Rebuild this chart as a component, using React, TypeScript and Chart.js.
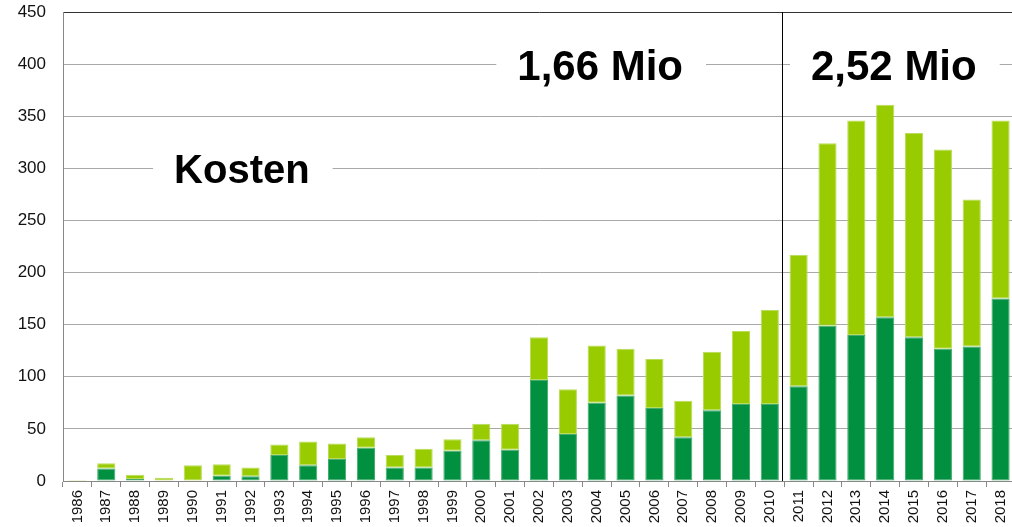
import React, { useEffect, useRef } from "react";
import { Chart, registerables } from "chart.js";

Chart.register(...registerables);

const years = [
  "1986", "1987", "1988", "1989", "1990", "1991", "1992", "1993", "1994", "1995", "1996",
  "1997", "1998", "1999", "2000", "2001", "2002", "2003", "2004", "2005", "2006", "2007",
  "2008", "2009", "2010", "2011", "2012", "2013", "2014", "2015", "2016", "2017", "2018",
];

// lower (dark green) part of each bar
const darkValues = [
  0, 12, 2, 0, 0, 5, 4.5, 25, 15, 21, 32,
  13, 13, 29, 39, 30, 97, 45, 75, 82, 70, 42,
  68, 74, 74, 91, 149, 140, 157, 138, 127, 129, 175,
];

// upper (light green) part of each bar
const lightValues = [
  1, 5, 4, 3, 15, 11, 8.5, 10, 23, 15, 10,
  12, 18, 11, 16, 25, 41, 43, 55, 45, 47, 35,
  56, 70, 90, 126, 175, 206, 204, 196, 191, 141, 171,
];

const yTicks = [0, 50, 100, 150, 200, 250, 300, 350, 400, 450];

const labelTexts = ["Kosten", "1,66 Mio", "2,52 Mio"];

const overlayPlugin = {
  id: "overlay",
  afterDatasetsDraw(chart: any) {
    const { ctx, scales, chartArea } = chart;
    const x = scales.x;
    const y = scales.y;
    const step = x.getPixelForValue(1) - x.getPixelForValue(0);
    const spots = [
      { text: labelTexts[0], idx: 5.7, val: 300, size: 40 },
      { text: labelTexts[1], idx: 18.12, val: 400, size: 42 },
      { text: labelTexts[2], idx: 28.3, val: 400, size: 42 },
    ];
    ctx.save();
    for (const s of spots) {
      const cx = x.getPixelForValue(0) + s.idx * step;
      const cy = y.getPixelForValue(s.val) + 4;
      ctx.font = `bold ${s.size}px "Liberation Sans", Arial, sans-serif`;
      const w = ctx.measureText(s.text).width;
      ctx.fillStyle = "#ffffff";
      ctx.fillRect(cx - w / 2 - 21, cy - 26, w + 44, 48);
      ctx.fillStyle = "#000000";
      ctx.textAlign = "center";
      ctx.textBaseline = "middle";
      ctx.fillText(s.text, cx, cy);
    }
    const dx = Math.round(x.getPixelForValue(24) + 0.43 * step) + 0.5;
    ctx.strokeStyle = "#000000";
    ctx.lineWidth = 1;
    ctx.beginPath();
    ctx.moveTo(dx, chartArea.top);
    ctx.lineTo(dx, chartArea.bottom);
    ctx.stroke();
    ctx.restore();
  },
};

export default function App() {
  const canvasRef = useRef<HTMLCanvasElement | null>(null);

  useEffect(() => {
    if (!canvasRef.current) return;
    const chart = new Chart(canvasRef.current, {
      type: "bar",
      data: {
        labels: years,
        datasets: [
          {
            label: "dark",
            data: darkValues,
            backgroundColor: "#009040",
            borderColor: "#45ab6c",
            borderWidth: 1,
            borderSkipped: false,
            barPercentage: 0.63,
            categoryPercentage: 1,
          },
          {
            label: "light",
            data: lightValues,
            backgroundColor: "#99cc00",
            borderColor: "#b9dc5a",
            borderWidth: 1,
            borderSkipped: false,
            barPercentage: 0.63,
            categoryPercentage: 1,
          },
        ],
      },
      options: {
        responsive: false,
        animation: false,
        layout: { padding: { top: 12, left: 0, right: 0, bottom: 0 } },
        plugins: {
          legend: { display: false },
          tooltip: { enabled: false },
          title: { display: false },
        },
        scales: {
          x: {
            stacked: true,
            afterFit: (s: any) => {
              s.height = 46;
              s.paddingLeft = 0;
              s.paddingRight = 0;
            },
            grid: {
              display: true,
              drawOnChartArea: false,
              drawTicks: true,
              offset: true,
              tickLength: 6,
              color: "#888888",
            },
            border: { display: true, color: "#888888", width: 1 },
            ticks: {
              autoSkip: false,
              maxRotation: 90,
              minRotation: 90,
              padding: 3,
              color: "#111111",
              font: { family: '"Liberation Sans", Arial, sans-serif', size: 15 },
            },
          },
          y: {
            stacked: true,
            min: 0,
            max: 450,
            afterFit: (s: any) => {
              s.width = 63;
              s.paddingTop = 0;
              s.paddingBottom = 0;
            },
            afterBuildTicks: (s: any) => {
              s.ticks = yTicks.map((v) => ({ value: v }));
            },
            grid: {
              drawTicks: false,
              tickLength: 0,
              color: (c: any) => (c.tick && c.tick.value === 450 ? "#333333" : "#a8a8a8"),
              lineWidth: 1,
            },
            border: { display: true, color: "#888888", width: 1 },
            ticks: {
              padding: 17,
              color: "#111111",
              font: { family: '"Liberation Sans", Arial, sans-serif', size: 17 },
            },
          },
        },
      },
      plugins: [overlayPlugin],
    });
    return () => chart.destroy();
  }, []);

  return (
    <div
      style={{
        position: "fixed",
        left: 0,
        top: 0,
        width: 1012,
        height: 527,
        overflow: "hidden",
        background: "#ffffff",
      }}
    >
      <canvas ref={canvasRef} width={1015} height={527} style={{ display: "block" }} />
    </div>
  );
}
